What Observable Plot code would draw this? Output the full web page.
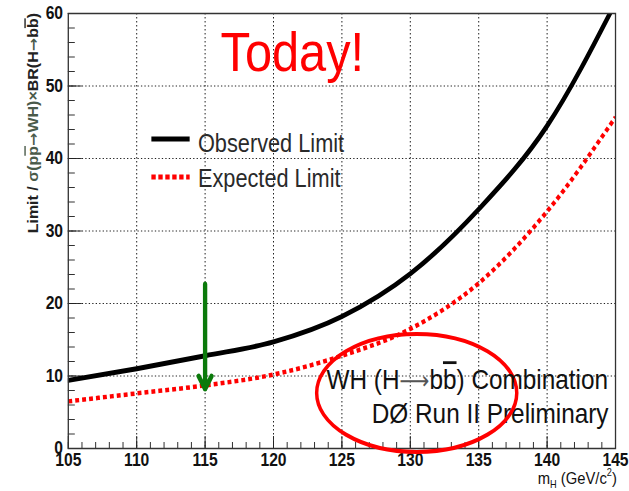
<!DOCTYPE html>
<html>
<head>
<meta charset="utf-8">
<script src="https://cdn.jsdelivr.net/npm/d3@7"></script>
<script src="https://cdn.jsdelivr.net/npm/@observablehq/plot@0.6"></script>
<style>
  html, body { margin: 0; padding: 0; background: white; }
  #chart { width: 629px; height: 491px; overflow: hidden; }
</style>
</head>
<body>
<div id="chart"></div>
<script>
// ---- data ----
const massGeV       = [105, 110, 115, 120, 125, 130, 135, 140, 145];
const observedLimit = [9.4, 11.0, 12.8, 14.7, 18.2, 24.1, 33.0, 44.5, 61.5];
const expectedLimit = [6.5, 7.6, 8.7, 10.2, 12.8, 16.5, 22.8, 32.7, 45.7];
const xMajorTicks = [105, 110, 115, 120, 125, 130, 135, 140, 145];
const xMinorTicks = d3.range(105, 146, 1);
const yMajorTicks = [0, 10, 20, 30, 40, 50, 60];
const yMinorTicks = d3.range(0, 61, 2);
const xGridTicks = [110, 115, 120, 125, 130, 135, 140];
const yGridTicks = [10, 20, 30, 40, 50];
const arrowMass = [115], arrowFrom = [22.7], arrowTo = [8.2];
const ellipseCenter = {m: 130.5, limit: 7.6};

const obsData = massGeV.map((m, i) => ({m, v: observedLimit[i]}));
const expData = massGeV.map((m, i) => ({m, v: expectedLimit[i]}));
const arrowData = arrowMass.map((m, i) => ({m, y1: arrowFrom[i], y2: arrowTo[i]}));

// The reference is horizontally condensed; draw on a wider virtual canvas and squeeze.
const OUT_W = 629, H = 491, SQ = 0.87;
const W = Math.round(OUT_W / SQ);
const ML = 78, MR = 16, MT = 13, MB = 43;
const FONT = "'Liberation Sans', Arial, Helvetica, sans-serif";

const plot = Plot.plot({
  width: W, height: H,
  marginLeft: ML, marginRight: MR, marginTop: MT, marginBottom: MB,
  x: {domain: [105, 145], axis: null, label: null},
  y: {domain: [0, 60], axis: null, label: null},
  style: {fontFamily: FONT, background: "white", color: "#111"},
  marks: [
    Plot.gridX(xGridTicks, {stroke: "#111", strokeOpacity: 1, strokeWidth: 1, strokeDasharray: "1.5,2.5"}),
    Plot.gridY(yGridTicks, {stroke: "#111", strokeOpacity: 1, strokeWidth: 1, strokeDasharray: "1.5,2.5"}),
    Plot.axisX(xMinorTicks, {tickSize: -6, fill: "none", stroke: "#222", label: null}),
    Plot.axisX(xMajorTicks, {tickSize: -12, fill: "none", stroke: "#222", label: null}),
    Plot.axisY(yMinorTicks, {tickSize: -8, fill: "none", stroke: "#222", label: null}),
    Plot.axisY(yMajorTicks, {tickSize: -16, fill: "none", stroke: "#222", label: null}),
    Plot.axisX(xMajorTicks, {tickSize: 0, tickPadding: 5, fontSize: 18, fontWeight: "bold", fill: "#111", label: null}),
    Plot.axisY(yMajorTicks, {tickSize: 0, tickPadding: 6, fontSize: 18, fontWeight: "bold", fill: "#111", label: null}),
    Plot.line(expData, {x: "m", y: "v", stroke: "#ff0000", strokeWidth: 4.5, strokeDasharray: "4.5,3.5", strokeLinecap: "butt", curve: "monotone-x", clip: true}),
    Plot.line(obsData, {x: "m", y: "v", stroke: "#000", strokeWidth: 5, curve: "monotone-x", clip: true}),
    Plot.arrow(arrowData, {x1: "m", y1: "y1", x2: "m", y2: "y2", stroke: "#0b7a0b", strokeWidth: 5, headLength: 4.5, headAngle: 60}),
    Plot.frame({stroke: "#333", strokeWidth: 1.5}),
    Plot.text(["Today!"], {frameAnchor: "top-left", textAnchor: "start", lineAnchor: "bottom", dx: 175, dy: 57, fontSize: 56, fill: "#ff0000"}),
    Plot.text(["Observed Limit"], {frameAnchor: "top-left", textAnchor: "start", lineAnchor: "bottom", dx: 149, dy: 138, fontSize: 25, fill: "#2a2a2a"}),
    Plot.text(["Expected Limit"], {frameAnchor: "top-left", textAnchor: "start", lineAnchor: "bottom", dx: 149, dy: 173, fontSize: 25, fill: "#2a2a2a"}),
    Plot.text(["DØ Run II Preliminary"], {frameAnchor: "top-right", textAnchor: "end", lineAnchor: "bottom", dx: -8, dy: 409, fontSize: 28, fill: "#111"})
  ]
});

// squeeze horizontally
plot.setAttribute("width", OUT_W);
plot.setAttribute("height", H);
plot.setAttribute("preserveAspectRatio", "none");
plot.style.width = OUT_W + "px";
plot.style.height = H + "px";
plot.style.maxWidth = "none";

const svg = d3.select(plot);
const xs = plot.scale("x"), ys = plot.scale("y");

// legend swatches
const lg = svg.append("g");
lg.append("line").attr("x1", 174).attr("x2", 218).attr("y1", 139).attr("y2", 139)
  .attr("stroke", "#000").attr("stroke-width", 5);
lg.append("line").attr("x1", 174).attr("x2", 218).attr("y1", 177).attr("y2", 177)
  .attr("stroke", "#ff0000").attr("stroke-width", 5).attr("stroke-dasharray", "5,3");

// ellipse annotation
svg.append("ellipse")
  .attr("cx", xs.apply(ellipseCenter.m)).attr("cy", ys.apply(ellipseCenter.limit))
  .attr("rx", 115).attr("ry", 59)
  .attr("fill", "none").attr("stroke", "#ff0000").attr("stroke-width", 4);

// rich text helper (tspans for overline / sub / superscripts)
function rich(attrs, parts) {
  const t = svg.append("text")
    .attr("font-family", FONT)
    .attr("font-size", attrs.size)
    .attr("font-weight", attrs.weight || "normal")
    .attr("fill", attrs.fill || "#111")
    .attr("text-anchor", attrs.anchor || "start")
    .attr("transform", `translate(${attrs.x},${attrs.y})` + (attrs.rotate ? ` rotate(${attrs.rotate})` : ""));
  let shift = 0;
  for (const p of parts) {
    const [str, o = {}] = Array.isArray(p) ? p : [p];
    const s = t.append("tspan").text(str);
    let target = 0;
    if (o.sub) target = attrs.size * 0.22;
    if (o.sup) target = -attrs.size * 0.45;
    if (target !== shift) { s.attr("dy", target - shift); shift = target; }
    if (o.sub || o.sup) s.attr("font-size", attrs.size * 0.62);
    if (o.over) s.style("text-decoration", "overline");
    if (o.fill) s.attr("fill", o.fill);
    if (o.font) s.attr("font-family", o.font);
    if (o.size) s.attr("font-size", o.size);
  }
  return t;
}

const soft = "#4a5a4a";
const ARROWFONT = "'DejaVu Sans', sans-serif";
// y-axis title
rich({x: 44, y: 13, size: 16, weight: "bold", anchor: "end", rotate: -90, fill: "#222"}, [
  "Limit / ", ["σ(p", {fill: soft}], ["p", {over: true, fill: soft}], ["→", {fill: soft, font: ARROWFONT}],
  ["WH)", {fill: soft}], ["×", {fill: soft}], "BR(H", ["→", {fill: soft, font: ARROWFONT}], "b", ["b", {over: true}], ")"
]);

// x-axis title
rich({x: 709, y: 484, size: 17, anchor: "end", fill: "#111"}, [
  "m", ["H", {sub: true}], " (GeV/c", ["2", {sup: true}], ")"
]);

// annotation line 1
rich({x: 699, y: 389, size: 28, anchor: "end", fill: "#111"}, [
  "WH (H", ["⟶", {font: ARROWFONT, fill: "#555", size: 24}], "b", ["b", {over: true}], ") Combination"
]);

document.getElementById("chart").appendChild(plot);
</script>
</body>
</html>
